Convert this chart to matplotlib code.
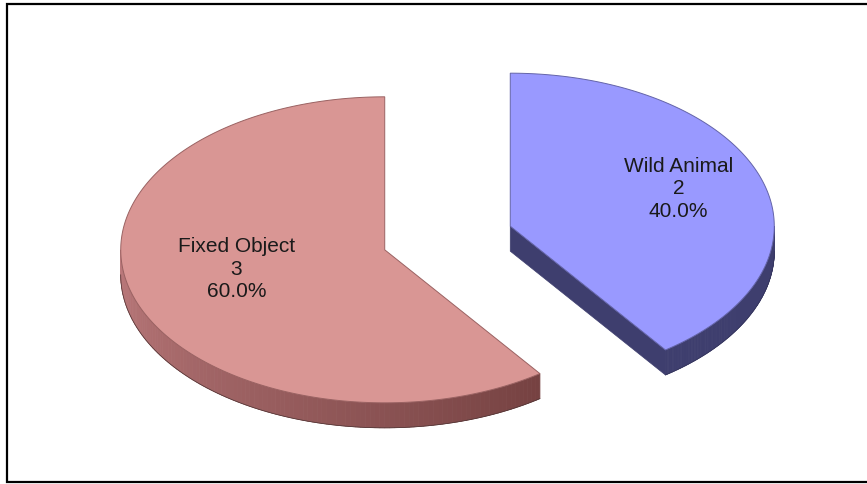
import numpy as np
import matplotlib
matplotlib.use("Agg")
import matplotlib.pyplot as plt
from matplotlib.patches import Polygon

# Collision type counts
labels = ["Wild Animal", "Fixed Object"]
counts = [2, 3]

top_colors = ["#9999FF", "#D99694"]
edge_colors = ["#6464A8", "#9A6262"]

# Pie geometry in pixel space (y grows downward)
W, H = 867, 485
cx, cy = 447.5, 239.0
rx, ry = 264.0, 153.0
depth = 25.0
explode = 0.25

fig = plt.figure(figsize=(W / 100, H / 100), dpi=100)
ax = fig.add_axes([0, 0, 1, 1])
ax.set_xlim(0, W)
ax.set_ylim(H, 0)
ax.axis("off")


def pt(c, th):
    t = np.radians(th)
    return np.array([c[0] + rx * np.sin(t), c[1] - ry * np.cos(t)])


total = float(sum(counts))
fracs = [v / total for v in counts]
start = 0.0
for i, (lab, val, fr) in enumerate(zip(labels, counts, fracs)):
    th0, th1 = start, start + 360.0 * fr
    start = th1
    mid = np.radians((th0 + th1) / 2)
    c = np.array([cx + explode * rx * np.sin(mid), cy - explode * ry * np.cos(mid)])
    down = np.array([0.0, depth])

    # radial side face at the end edge of the wedge
    p_end = pt(c, th1)
    if i == 0:
        side_col = "#3E3E6E"
        ax.add_patch(Polygon([c, p_end, p_end + down, c + down], closed=True,
                             facecolor=side_col, edgecolor=side_col, lw=0.5, zorder=2))

    # outer rim on the near half of the ellipse
    a0, a1 = max(th0, 90.0), min(th1, 270.0)
    if a1 > a0:
        ths = np.linspace(a0, a1, 120)
        for k in range(len(ths) - 1):
            p = pt(c, ths[k])
            q = pt(c, ths[k + 1])
            if i == 0:
                col = np.array([62, 62, 110]) / 255
            else:
                s = (ths[k] - a0) / (a1 - a0)
                col = (np.array([118, 66, 66]) * (1 - s) + np.array([188, 122, 124]) * s) / 255
            ax.add_patch(Polygon([p, q, q + down, p + down], closed=True,
                                 facecolor=col, edgecolor=col, lw=0.6, zorder=2))
        arc = np.array([pt(c, t) for t in ths])
        ax.plot(arc[:, 0], arc[:, 1] + depth, color=(0.3, 0.2, 0.2) if i else (0.2, 0.2, 0.35),
                lw=0.5, zorder=2)

    # top face
    ths = np.linspace(th0, th1, 300)
    arc = np.array([pt(c, t) for t in ths])
    poly = np.vstack([c, arc])
    ax.add_patch(Polygon(poly, closed=True, facecolor=top_colors[i],
                         edgecolor=edge_colors[i], lw=0.7, zorder=3))

    # data label
    lx = c[0] + 0.63 * rx * np.sin(mid) + 10
    ly = c[1] - 0.60 * ry * np.cos(mid) - 10
    ax.text(lx, ly, f"{lab}\n{val}\n{fr * 100:.1f}%", ha="center", va="center",
            fontsize=15, family=["Liberation Sans", "DejaVu Sans"], color="#1A1A1A",
            linespacing=1.22, zorder=4)

# chart frame
ax.plot([870, 7, 7, 870], [5, 5, 483, 483], color="black", lw=1.6,
        solid_joinstyle="miter", zorder=5, clip_on=False)

fig.savefig("out.png", dpi=100)
